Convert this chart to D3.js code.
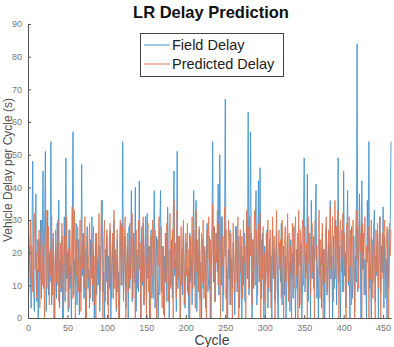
<!DOCTYPE html>
<html>
<head>
<meta charset="utf-8">
<script src="https://cdn.jsdelivr.net/npm/d3@7"></script>
<style>
  html, body { margin: 0; padding: 0; background: #fff; }
  text { font-family: "Liberation Sans", Arial, Helvetica, sans-serif; }
</style>
</head>
<body>
<svg id="chart" width="394" height="347"></svg>
<script>
// values, one per cycle (cycle = index + 1)
const fieldDelay = [
  8, 22, 14, 3, 26, 48, 10, 2, 17, 38,
  5, 15, 0, 24, 12, 30, 6, 19, 45, 9,
  28, 51, 2, 14, 33, 7, 20, 11, 54, 4,
  16, 26, 0, 12, 22, 6, 29, 10, 36, 3,
  18, 8, 25, 0, 14, 31, 5, 49, 12, 20,
  2, 27, 9, 16, 0, 23, 57, 7, 18, 11,
  29, 4, 14, 24, 1, 19, 8, 47, 13, 26,
  6, 21, 0, 17, 28, 9, 15, 3, 24, 12,
  31, 5, 20, 0, 13, 26, 7, 18, 10, 22,
  2, 16, 28, 36, 8, 14, 0, 21, 11, 25,
  4, 19, 9, 27, 0, 15, 23, 6, 30, 12,
  18, 2, 24, 8, 14, 0, 20, 29, 10, 54,
  6, 17, 25, 3, 13, 22, 0, 28, 9, 19,
  39, 5, 16, 26, 11, 40, 2, 21, 14, 8,
  42, 18, 0, 24, 10, 29, 4, 15, 31, 7,
  32, 12, 22, 0, 17, 27, 6, 13, 20, 39,
  3, 16, 25, 9, 0, 18, 28, 39, 8, 14,
  22, 1, 19, 11, 26, 5, 34, 15, 0, 21,
  10, 24, 6, 30, 45, 13, 18, 2, 51, 9,
  17, 25, 0, 12, 21, 7, 28, 14, 3, 19,
  23, 8, 15, 0, 26, 11, 18, 4, 22, 39,
  10, 16, 36, 2, 20, 13, 27, 6, 17, 0,
  24, 9, 14, 21, 3, 18, 29, 8, 12, 25,
  0, 16, 22, 54, 11, 28, 5, 19, 26, 14,
  41, 7, 50, 20, 10, 31, 2, 17, 24, 67,
  6, 15, 0, 21, 12, 27, 4, 18, 9, 23,
  14, 1, 20, 28, 8, 16, 25, 3, 13, 22,
  0, 19, 10, 26, 5, 17, 30, 12, 63, 7,
  21, 57, 15, 0, 24, 9, 18, 28, 39, 4,
  16, 42, 11, 46, 20, 6, 26, 13, 0, 22,
  10, 17, 27, 3, 14, 24, 8, 19, 0, 27,
  12, 21, 5, 16, 26, 9, 0, 18, 23, 11,
  29, 4, 15, 22, 7, 19, 0, 13, 25, 10,
  17, 2, 24, 12, 20, 6, 28, 14, 0, 21,
  9, 26, 16, 3, 18, 23, 0, 11, 27, 49,
  8, 20, 14, 44, 5, 17, 25, 0, 36, 12,
  22, 9, 19, 30, 41, 6, 15, 0, 24, 13,
  18, 3, 26, 10, 21, 0, 16, 28, 7, 14,
  23, 5, 36, 12, 19, 0, 25, 9, 17, 30,
  4, 15, 49, 11, 22, 0, 18, 27, 8, 45,
  13, 20, 3, 24, 39, 10, 16, 0, 21, 28,
  6, 14, 25, 2, 19, 11, 84, 8, 17, 38,
  23, 0, 42, 15, 26, 7, 18, 12, 0, 36,
  20, 54, 9, 16, 0, 24, 11, 28, 33, 5,
  19, 13, 26, 0, 17, 31, 8, 22, 14, 34,
  3, 25, 12, 18, 0, 27, 9, 21, 28, 54
];

const predictedDelay = [
  25, 18, 30, 12, 22, 8, 28, 32, 15, 20,
  6, 24, 14, 27, 3, 19, 30, 10, 22, 16,
  0, 26, 33, 9, 18, 28, 4, 21, 13, 31,
  7, 24, 17, 0, 27, 11, 20, 30, 5, 16,
  23, 9, 29, 14, 0, 25, 18, 8, 31, 12,
  21, 3, 27, 16, 10, 34, 6, 19, 33, 0,
  24, 13, 28, 8, 17, 30, 2, 22, 15, 26,
  9, 31, 18, 0, 25, 12, 20, 29, 6, 16,
  23, 10, 28, 4, 19, 0, 26, 14, 21, 32,
  8, 17, 36, 12, 0, 24, 30, 5, 20, 27,
  11, 0, 22, 29, 15, 6, 26, 18, 33, 9,
  21, 3, 27, 13, 0, 24, 30, 10, 17, 28,
  5, 22, 31, 0, 16, 26, 8, 20, 29, 12,
  18, 32, 6, 24, 14, 0, 27, 19, 9, 30,
  15, 23, 0, 28, 11, 31, 4, 20, 26, 0,
  17, 29, 8, 22, 0, 25, 13, 30, 6, 21,
  27, 10, 0, 24, 16, 31, 7, 19, 28, 3,
  22, 14, 0, 26, 11, 29, 18, 5, 24, 32,
  9, 20, 27, 0, 36, 15, 23, 6, 33, 12,
  25, 18, 0, 28, 10, 22, 30, 4, 17, 26,
  13, 29, 7, 21, 0, 25, 16, 31, 9, 27,
  20, 3, 33, 14, 24, 8, 28, 0, 19, 26,
  11, 30, 6, 22, 15, 0, 27, 18, 31, 9,
  24, 0, 20, 35, 13, 28, 5, 26, 17, 33,
  10, 29, 22, 0, 31, 16, 25, 7, 34, 19,
  27, 0, 12, 30, 21, 4, 26, 15, 0, 29,
  18, 8, 28, 23, 11, 31, 0, 20, 27, 14,
  25, 6, 30, 17, 22, 0, 33, 13, 28, 9,
  31, 19, 26, 4, 24, 15, 33, 10, 27, 21,
  7, 29, 16, 32, 0, 24, 12, 28, 5, 20,
  0, 26, 14, 30, 9, 22, 27, 3, 18, 31,
  12, 25, 0, 21, 33, 8, 19, 27, 15, 24,
  6, 30, 17, 0, 23, 28, 11, 20, 32, 5,
  26, 14, 22, 0, 29, 18, 9, 25, 31, 13,
  21, 0, 33, 16, 27, 4, 24, 30, 10, 19,
  28, 12, 23, 0, 31, 17, 26, 7, 20, 29,
  14, 25, 0, 30, 18, 22, 9, 27, 33, 6,
  24, 16, 29, 0, 21, 11, 26, 31, 8, 19,
  27, 0, 34, 15, 24, 31, 5, 22, 36, 12,
  28, 18, 33, 0, 25, 30, 14, 21, 32, 8,
  26, 19, 0, 29, 23, 11, 31, 16, 27, 4,
  22, 30, 13, 0, 25, 33, 18, 28, 9, 32,
  20, 26, 0, 29, 15, 24, 31, 7, 22, 17,
  28, 0, 25, 12, 30, 19, 6, 26, 21, 0,
  27, 14, 29, 9, 23, 31, 0, 18, 26, 12,
  24, 30, 6, 21, 28, 15, 0, 29, 19, 27
];

const xTicks = [0, 50, 100, 150, 200, 250, 300, 350, 400, 450];
const yTicks = [0, 10, 20, 30, 40, 50, 60, 70, 80, 90];
const seriesNames = ["Field Delay", "Predicted Delay"];
const seriesColors = ["#3f8fce", "#e07650"];

const svg = d3.select("#chart");
const margin = { left: 28, right: 3, top: 24, bottom: 29 };
const W = 394, H = 347;

const x = d3.scaleLinear().domain([0, 460]).range([margin.left, W - margin.right]);
const y = d3.scaleLinear().domain([0, 90]).range([H - margin.bottom, margin.top]);

const axisColor = "#555";

// lines (predicted drawn on top, as in matlab)
const line = d3.line()
  .x((d, i) => x(i + 1))
  .y(d => y(d));

[fieldDelay, predictedDelay].forEach((vals, k) => {
  svg.append("path")
    .datum(vals)
    .attr("fill", "none")
    .attr("stroke", seriesColors[k])
    .attr("stroke-width", 1)
    .attr("stroke-opacity", 0.85)
    .attr("d", line);
});

// axes, ticks point inwards
const xAxis = svg.append("g")
  .attr("transform", `translate(0,${y(0)})`)
  .call(d3.axisBottom(x).tickValues(xTicks).tickSizeInner(-3).tickSizeOuter(0).tickPadding(7));
const yAxis = svg.append("g")
  .attr("transform", `translate(${x(0)},0)`)
  .call(d3.axisLeft(y).tickValues(yTicks).tickSizeInner(-3).tickSizeOuter(0).tickPadding(6));

[xAxis, yAxis].forEach(g => {
  g.select(".domain").attr("stroke", axisColor);
  g.selectAll(".tick line").attr("stroke", axisColor);
  g.selectAll(".tick text")
    .attr("fill", "#777")
    .style("font-size", "9px");
});

// title and axis labels
svg.append("text")
  .attr("x", 211).attr("y", 18)
  .attr("text-anchor", "middle")
  .style("font-size", "16.5px").style("font-weight", "bold")
  .attr("fill", "#111")
  .text("LR Delay Prediction");

svg.append("text")
  .attr("x", 212).attr("y", 345)
  .attr("text-anchor", "middle")
  .style("font-size", "14px")
  .attr("fill", "#444")
  .text("Cycle");

svg.append("text")
  .attr("transform", "translate(12,170) rotate(-90)")
  .attr("text-anchor", "middle")
  .style("font-size", "12px")
  .attr("fill", "#555")
  .text("Vehicle Delay per Cycle (s)");

// legend
const legend = svg.append("g");
legend.append("rect")
  .attr("x", 140.5).attr("y", 33.5)
  .attr("width", 143).attr("height", 43)
  .attr("fill", "#fff").attr("stroke", "#444");

seriesNames.forEach((name, k) => {
  const ly = 45 + k * 19;
  legend.append("line")
    .attr("x1", 144).attr("x2", 170)
    .attr("y1", ly).attr("y2", ly)
    .attr("stroke", seriesColors[k]).attr("stroke-width", 1);
  legend.append("text")
    .attr("x", 172).attr("y", ly + 5)
    .style("font-size", "14.5px")
    .attr("fill", "#222")
    .text(name);
});
</script>
</body>
</html>
